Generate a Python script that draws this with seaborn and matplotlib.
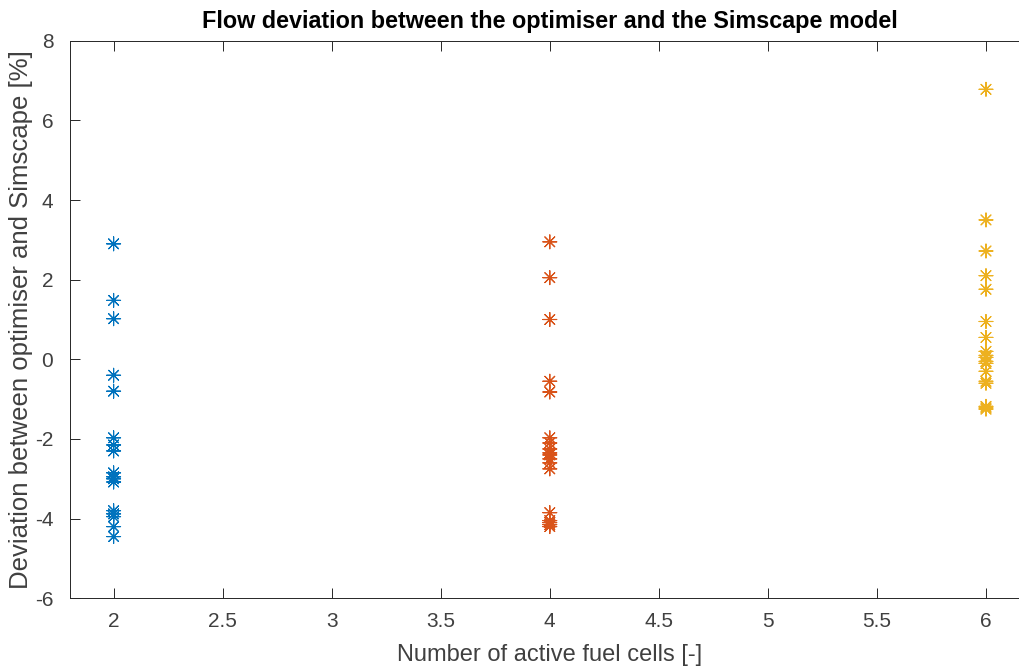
import numpy as np
import pandas as pd
import matplotlib
matplotlib.use("Agg")
import matplotlib.pyplot as plt
import seaborn as sns

# Deviation [%] between optimiser and Simscape, grouped by number of active fuel cells
cells_2 = [2.9, 1.48, 1.02, -0.4, -0.8, -1.97, -2.15, -2.3, -2.85, -2.95, -3.0,
           -3.08, -3.8, -3.88, -3.95, -4.2, -4.45]
cells_4 = [2.95, 2.05, 1.0, -0.55, -0.82, -1.97, -2.1, -2.25, -2.35, -2.4, -2.5,
           -2.6, -2.75, -3.85, -4.05, -4.1, -4.15, -4.2]
cells_6 = [6.78, 3.5, 2.72, 2.1, 1.76, 0.95, 0.55, 0.2, 0.1, 0.05, -0.05, -0.1,
           -0.3, -0.55, -0.6, -1.18, -1.22, -1.25]
fuel_cells = [2, 4, 6]
colors = ["#0072BD", "#D95319", "#EDB120"]

xticks = [2, 2.5, 3, 3.5, 4, 4.5, 5, 5.5, 6]
yticks = [-6, -4, -2, 0, 2, 4, 6, 8]

df = pd.DataFrame({
    "cells": np.repeat(fuel_cells, [len(cells_2), len(cells_4), len(cells_6)]),
    "dev": cells_2 + cells_4 + cells_6,
})

sns.set_style("white")
plt.rcParams["font.family"] = ["Liberation Sans", "DejaVu Sans"]

fig = plt.figure(figsize=(10.2, 6.69), dpi=100)
ax = fig.add_axes([70 / 1020, 70.7 / 669, 959.6 / 1020, 557.6 / 669])

sns.scatterplot(data=df, x="cells", y="dev", hue="cells", palette=colors,
                marker=(8, 2, 0), s=100, linewidth=0.8, legend=False, ax=ax)

ax.set_xlim(1.8, 6.2)
ax.set_ylim(-6, 8)
ax.set_xticks(xticks)
ax.set_xticklabels([f"{t:g}" for t in xticks])
ax.set_yticks(yticks)
ax.set_yticklabels([f"{t:g}" for t in yticks])

dark = "#262626"
label_col = "#404040"
for sp in ax.spines.values():
    sp.set_visible(True)
    sp.set_color(dark)
    sp.set_linewidth(0.7)
ax.tick_params(direction="in", length=7, width=0.7, color=dark, labelcolor=label_col,
               labelsize=15, top=True, right=True, bottom=True, left=True)
ax.tick_params(axis="x", pad=10)
ax.tick_params(axis="y", pad=12)

ax.set_xlabel("Number of active fuel cells [-]", fontsize=17, color=label_col, labelpad=9)
ax.set_ylabel("Deviation between optimiser and Simscape [%]", fontsize=18.5,
              color=label_col, labelpad=1)
ax.set_title("Flow deviation between the optimiser and the Simscape model",
             fontsize=16.8, fontweight="bold", color="black", pad=9)

fig.savefig("out.png", dpi=100)
